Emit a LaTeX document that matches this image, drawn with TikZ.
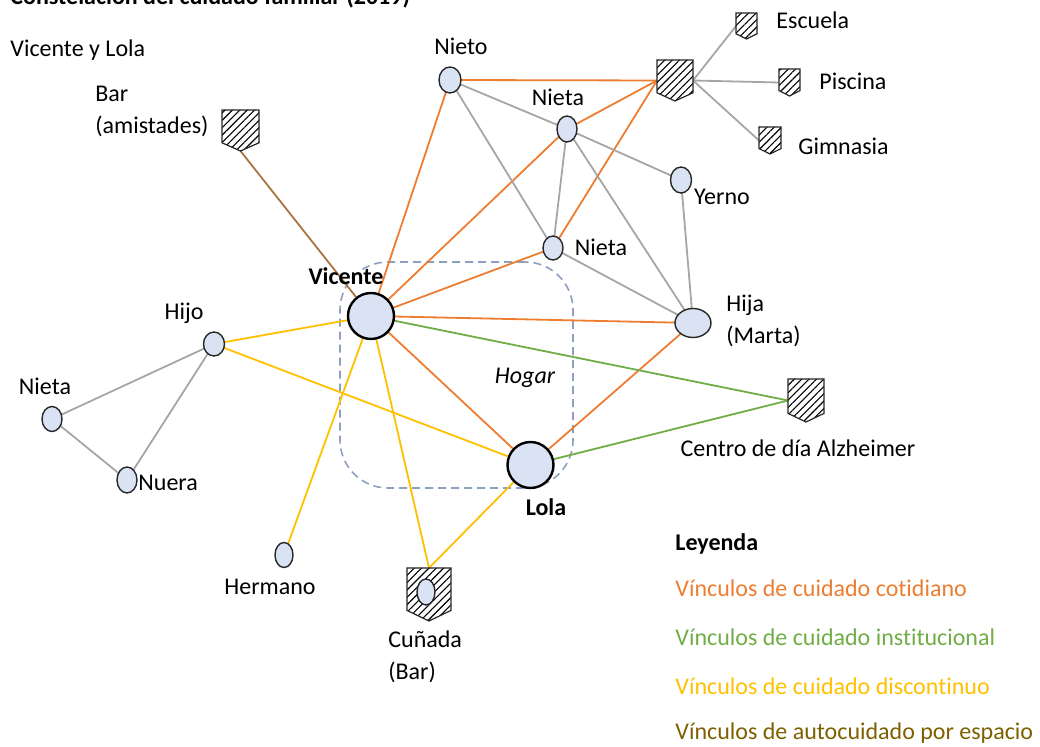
\documentclass[tikz,border=0pt]{standalone}
\usepackage{fontspec}
\setmainfont[Ligatures=NoCommon]{Carlito}
\usepackage{tikz}
\usetikzlibrary{shapes.geometric,patterns.meta,calc,backgrounds}

\definecolor{pfill}{HTML}{DAE3F3}
\definecolor{dailycol}{HTML}{ED7D31}
\definecolor{instcol}{HTML}{70AD47}
\definecolor{disccol}{HTML}{FFC000}
\definecolor{selfline}{HTML}{A87440}
\definecolor{selftext}{HTML}{7F6000}
\definecolor{famcol}{HTML}{A6A6A6}
\definecolor{hogarcol}{HTML}{8EA0C0}

% hatched badge: name, centre, width, height (px)
\newcommand{\shieldnode}[4]{%
  \node[shieldbox, minimum width=#3*0.5pt, minimum height=#4*0.5pt] (#1) at (#2) {};
  \draw[shieldline] (#1.north west) -- (#1.north east)
    -- ($(#1.south east)+(0,-0.2*#4)$) -- (#1.south)
    -- ($(#1.south west)+(0,-0.2*#4)$) -- cycle;
}

\begin{document}
\fontsize{12}{16}\selectfont
\begin{tikzpicture}[
    x=0.5pt, y=-0.5pt,
    person/.style 2 args={
        ellipse,
        draw=black!85,
        fill=pfill,
        line width=0.7pt,
        inner sep=0pt, outer sep=0pt,
        minimum width=#1,
        minimum height=#2
    },
    elder/.style={
        circle,
        draw=black,
        fill=pfill,
        line width=1.2pt,
        inner sep=0pt,
        minimum size=23pt
    },
    shieldbox/.style={inner sep=0pt, outer sep=0pt},
    shieldline/.style={
        draw=black!85,
        line width=0.6pt,
        fill=white,
        pattern={Lines[angle=45,distance=2.6pt,line width=0.55pt]}
    },
    hogar/.style={
        draw=hogarcol,
        dash pattern=on 4pt off 2.5pt,
        line width=0.8pt,
        rounded corners=24pt,
        minimum width=116.5pt,
        minimum height=113pt
    },
    lab/.style={inner sep=0pt, align=left},
    dailylink/.style={draw=dailycol, line width=0.9pt},
    instlink/.style={draw=instcol, line width=0.9pt},
    disclink/.style={draw=disccol, line width=0.9pt},
    selflink/.style={draw=selfline, line width=0.9pt},
    famlink/.style={draw=famcol, line width=0.9pt}
]
\clip (0,0) rectangle (1040,747);

%-----------------------------------
% Titles
%-----------------------------------
\node[lab, anchor=base west, font=\bfseries] (title) at (10,5) {Constelación del cuidado familiar (2019)};
\node[lab, anchor=west] (couple) at (10,50) {Vicente y Lola};

%-----------------------------------
% Places
%-----------------------------------
\shieldnode{actsh}{675,80.5}{36}{41}
\shieldnode{escuela}{746.5,26}{21}{26}
\shieldnode{piscina}{789.5,82.5}{21}{27}
\shieldnode{gimnasia}{770,140.5}{22}{27}
\shieldnode{bar}{240.5,130.5}{37}{41}
\shieldnode{centro}{806,400.5}{36}{43}
\shieldnode{cunsh}{429,594.5}{44}{53}

%-----------------------------------
% People
%-----------------------------------
\node[person={11pt}{13pt}] (nieto) at (450,80) {};
\node[person={10pt}{13pt}] (nietaA) at (567,129) {};
\node[person={10pt}{12pt}] (nietaB) at (553,248) {};
\node[person={10.5pt}{13pt}] (yerno) at (681,180) {};
\node[person={18pt}{14.5pt}] (hija) at (693,323) {};
\node[elder] (vicente) at (371,316) {};
\node[elder] (lola) at (530.5,465) {};
\node[person={10.5pt}{12pt}] (hijo) at (214,344) {};
\node[person={10pt}{12.5pt}] (nietaC) at (52,419) {};
\node[person={10pt}{13pt}] (nuera) at (127,480) {};
\node[person={9pt}{12.5pt}] (hermano) at (284,555) {};
\node[person={9pt}{13pt}] (cunada) at (426,592) {};

%-----------------------------------
% Labels
%-----------------------------------
\node[lab] (lNieto) at (461,46) {Nieto};
\node[lab] (lNietaA) at (558,97) {Nieta};
\node[lab] (lNietaB) at (601,247) {Nieta};
\node[lab] (lYerno) at (722,197) {Yerno};
\node[lab, anchor=west] (lHija) at (726,321) {Hija\\(Marta)};
\node[lab, font=\bfseries] (lVicente) at (346,276) {Vicente};
\node[lab, font=\bfseries] (lLola) at (546,507) {Lola};
\node[lab] (lHijo) at (184,313) {Hijo};
\node[lab] (lNietaC) at (45,386) {Nieta};
\node[lab, anchor=west] (lNuera) at (138,483) {Nuera};
\node[lab] (lHermano) at (270,587) {Hermano};
\node[lab, anchor=west] (lCunada) at (388,657) {Cuñada\\(Bar)};
\node[lab, anchor=west] (lBar) at (95,111) {Bar\\(amistades)};
\node[lab, anchor=west] (lEscuela) at (776,20) {Escuela};
\node[lab, anchor=west] (lPiscina) at (819,81) {Piscina};
\node[lab, anchor=west] (lGimnasia) at (798,146) {Gimnasia};
\node[lab] (lCentro) at (798,448) {Centro de día Alzheimer};
\node[lab, font=\itshape] (lHogar) at (525,378) {Hogar};

%-----------------------------------
% Legend
%-----------------------------------
\node[lab, anchor=west, font=\bfseries] (legend) at (675,544) {Leyenda};
\node[lab, anchor=west, text=dailycol] (legDaily) at (675,588) {Vínculos de cuidado cotidiano};
\node[lab, anchor=west, text=instcol] (legInst) at (675,637) {Vínculos de cuidado institucional};
\node[lab, anchor=west, text=disccol] (legDisc) at (675,686) {Vínculos de cuidado discontinuo};
\node[lab, anchor=west, text=selftext] (legSelf) at (675,733) {Vínculos de autocuidado por espacio};

%-----------------------------------
% Links
%-----------------------------------
\begin{scope}[on background layer]
\node[hogar] (hogarbox) at (456.5,375) {};

\draw[dailylink] (nieto) -- (vicente);
\draw[dailylink] (nieto) -- (actsh.west);
\draw[dailylink] (nietaA) -- (vicente);
\draw[dailylink] (nietaA) -- (actsh.west);
\draw[dailylink] (nietaB) -- (actsh.west);
\draw[dailylink] (nietaB) -- (vicente);
\draw[dailylink] (vicente) -- (hija);
\draw[dailylink] (vicente) -- (lola);
\draw[dailylink] (lola) -- (hija);

\draw[famlink] (nieto) -- (nietaA);
\draw[famlink] (nieto) -- (nietaB);
\draw[famlink] (nietaA) -- (nietaB);
\draw[famlink] (nietaA) -- (yerno);
\draw[famlink] (nietaA) -- (hija);
\draw[famlink] (nietaB) -- (hija);
\draw[famlink] (yerno) -- (hija);
\draw[famlink] (actsh.east) -- (escuela.west);
\draw[famlink] (actsh.east) -- (piscina.west);
\draw[famlink] (actsh.east) -- (gimnasia.west);
\draw[famlink] (hijo) -- (nietaC);
\draw[famlink] (hijo) -- (nuera);
\draw[famlink] (nietaC) -- (nuera);

\draw[instlink] (vicente) -- (centro.west);
\draw[instlink] (lola) -- (centro.west);

\draw[disclink] (hijo) -- (vicente);
\draw[disclink] (hijo) -- (lola);
\draw[disclink] (vicente) -- (hermano);
\draw[disclink] (vicente) -- (cunsh.north);
\draw[disclink] (lola) -- (cunsh.north);

\draw[selflink] (bar.south) -- (vicente);
\end{scope}

\end{tikzpicture}
\end{document}
